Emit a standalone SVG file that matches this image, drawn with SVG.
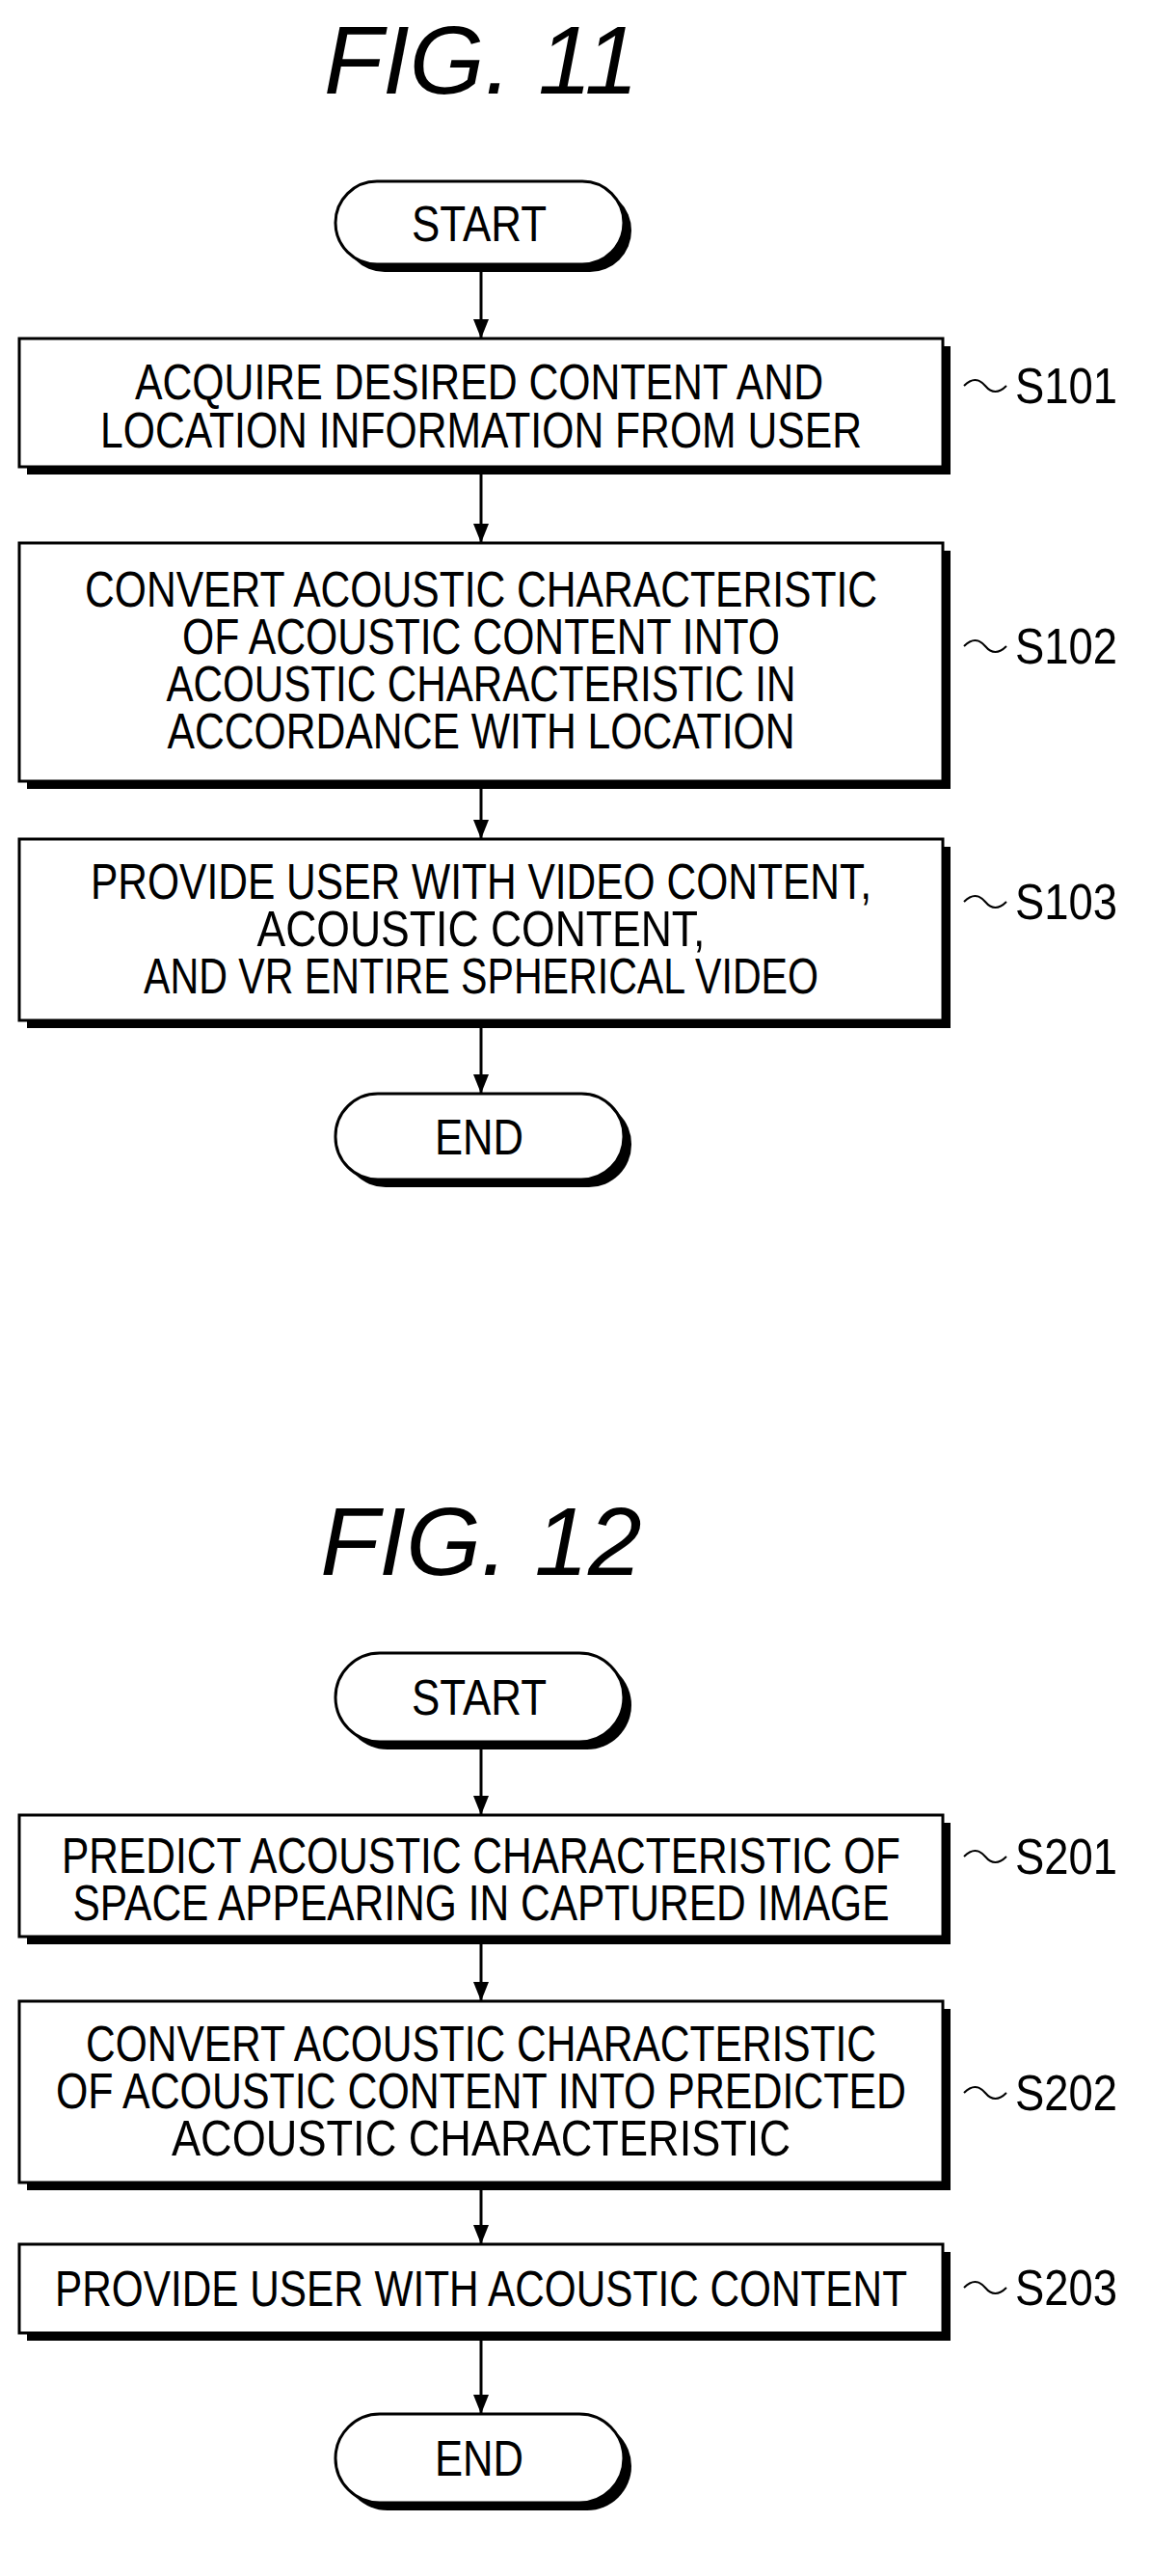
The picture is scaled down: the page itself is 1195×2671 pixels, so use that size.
<svg xmlns="http://www.w3.org/2000/svg" width="1195" height="2671" viewBox="0 0 1195 2671">
<style>
.t{font-family:"Liberation Sans",Arial,sans-serif;font-size:52px;fill:#000;text-anchor:middle}
.fig{font-family:"Liberation Sans",Arial,sans-serif;font-size:100px;font-style:italic;fill:#000;text-anchor:middle}
.lb{font-family:"Liberation Sans",Arial,sans-serif;font-size:52px;fill:#000}
.box{fill:#fff;stroke:#000;stroke-width:3}
.sh{fill:#000}
.c{stroke:#000;stroke-width:3;fill:none}
.tl{stroke:#000;stroke-width:2;fill:none}
</style>
<defs>
<marker id="ah" viewBox="0 0 20 20" refX="20" refY="10" markerWidth="20" markerHeight="20" markerUnits="userSpaceOnUse" orient="auto"><path d="M0,2 L20,10 L0,18 z" fill="#000"/></marker></defs>
<rect width="1195" height="2671" fill="#fff"/>
<text class="fig" x="499" y="97">FIG. 11</text>
<text class="fig" x="499" y="1633">FIG. 12</text>
<g id="connectors">
<path class="c" d="M499,281 V351" marker-end="url(#ah)"/>
<path class="c" d="M499,492 V563" marker-end="url(#ah)"/>
<path class="c" d="M499,818 V870" marker-end="url(#ah)"/>
<path class="c" d="M499,1066 V1134" marker-end="url(#ah)"/>
<path class="c" d="M499,1813 V1882" marker-end="url(#ah)"/>
<path class="c" d="M499,2016 V2075" marker-end="url(#ah)"/>
<path class="c" d="M499,2271 V2327" marker-end="url(#ah)"/>
<path class="c" d="M499,2427 V2503" marker-end="url(#ah)"/>
<path class="tl" d="M1000,400 q12,-12 22,0 t22,0"/>
<path class="tl" d="M1000,670 q12,-12 22,0 t22,0"/>
<path class="tl" d="M1000,935 q12,-12 22,0 t22,0"/>
<path class="tl" d="M1000,1925 q12,-12 22,0 t22,0"/>
<path class="tl" d="M1000,2170 q12,-12 22,0 t22,0"/>
<path class="tl" d="M1000,2372 q12,-12 22,0 t22,0"/>
</g>
<g id="start1"><rect class="sh" x="356" y="196" width="299" height="86" rx="43"/><rect class="box" x="348" y="188" width="299" height="86" rx="43"/><text class="t" x="497" y="250" textLength="140" lengthAdjust="spacingAndGlyphs">START</text></g>
<g id="s101"><rect class="sh" x="28" y="359" width="958" height="133"/><rect class="box" x="20" y="351" width="958" height="133"/>
<text class="t" x="497" y="414" textLength="714" lengthAdjust="spacingAndGlyphs">ACQUIRE DESIRED CONTENT AND</text>
<text class="t" x="499" y="464" textLength="790" lengthAdjust="spacingAndGlyphs">LOCATION INFORMATION FROM USER</text>
<text class="lb" x="1053" y="418" textLength="106" lengthAdjust="spacingAndGlyphs">S101</text></g>
<g id="s102"><rect class="sh" x="28" y="571" width="958" height="247"/><rect class="box" x="20" y="563" width="958" height="247"/>
<text class="t" x="499" y="629" textLength="822" lengthAdjust="spacingAndGlyphs">CONVERT ACOUSTIC CHARACTERISTIC</text>
<text class="t" x="499" y="678" textLength="620" lengthAdjust="spacingAndGlyphs">OF ACOUSTIC CONTENT INTO</text>
<text class="t" x="499" y="727" textLength="653" lengthAdjust="spacingAndGlyphs">ACOUSTIC CHARACTERISTIC IN</text>
<text class="t" x="499" y="776" textLength="651" lengthAdjust="spacingAndGlyphs">ACCORDANCE WITH LOCATION</text>
<text class="lb" x="1053" y="688" textLength="106" lengthAdjust="spacingAndGlyphs">S102</text></g>
<g id="s103"><rect class="sh" x="28" y="878" width="958" height="188"/><rect class="box" x="20" y="870" width="958" height="188"/>
<text class="t" x="499" y="932" textLength="810" lengthAdjust="spacingAndGlyphs">PROVIDE USER WITH VIDEO CONTENT,</text>
<text class="t" x="499" y="981" textLength="465" lengthAdjust="spacingAndGlyphs">ACOUSTIC CONTENT,</text>
<text class="t" x="499" y="1030" textLength="700" lengthAdjust="spacingAndGlyphs">AND VR ENTIRE SPHERICAL VIDEO</text>
<text class="lb" x="1053" y="953" textLength="106" lengthAdjust="spacingAndGlyphs">S103</text></g>
<g id="end1"><rect class="sh" x="356" y="1142" width="299" height="89" rx="44"/><rect class="box" x="348" y="1134" width="299" height="89" rx="44"/><text class="t" x="497" y="1197" textLength="92" lengthAdjust="spacingAndGlyphs">END</text></g>
<g id="start2"><rect class="sh" x="356" y="1722" width="299" height="92" rx="46"/><rect class="box" x="348" y="1714" width="299" height="92" rx="46"/><text class="t" x="497" y="1778" textLength="140" lengthAdjust="spacingAndGlyphs">START</text></g>
<g id="s201"><rect class="sh" x="28" y="1890" width="958" height="126"/><rect class="box" x="20" y="1882" width="958" height="126"/>
<text class="t" x="499" y="1942" textLength="870" lengthAdjust="spacingAndGlyphs">PREDICT ACOUSTIC CHARACTERISTIC OF</text>
<text class="t" x="499" y="1991" textLength="847" lengthAdjust="spacingAndGlyphs">SPACE APPEARING IN CAPTURED IMAGE</text>
<text class="lb" x="1053" y="1943" textLength="106" lengthAdjust="spacingAndGlyphs">S201</text></g>
<g id="s202"><rect class="sh" x="28" y="2083" width="958" height="188"/><rect class="box" x="20" y="2075" width="958" height="188"/>
<text class="t" x="499" y="2137" textLength="820" lengthAdjust="spacingAndGlyphs">CONVERT ACOUSTIC CHARACTERISTIC</text>
<text class="t" x="499" y="2186" textLength="882" lengthAdjust="spacingAndGlyphs">OF ACOUSTIC CONTENT INTO PREDICTED</text>
<text class="t" x="499" y="2235" textLength="642" lengthAdjust="spacingAndGlyphs">ACOUSTIC CHARACTERISTIC</text>
<text class="lb" x="1053" y="2188" textLength="106" lengthAdjust="spacingAndGlyphs">S202</text></g>
<g id="s203"><rect class="sh" x="28" y="2335" width="958" height="92"/><rect class="box" x="20" y="2327" width="958" height="92"/>
<text class="t" x="499" y="2391" textLength="884" lengthAdjust="spacingAndGlyphs">PROVIDE USER WITH ACOUSTIC CONTENT</text>
<text class="lb" x="1053" y="2390" textLength="106" lengthAdjust="spacingAndGlyphs">S203</text></g>
<g id="end2"><rect class="sh" x="356" y="2511" width="299" height="92" rx="46"/><rect class="box" x="348" y="2503" width="299" height="92" rx="46"/><text class="t" x="497" y="2567" textLength="92" lengthAdjust="spacingAndGlyphs">END</text></g>
</svg>
